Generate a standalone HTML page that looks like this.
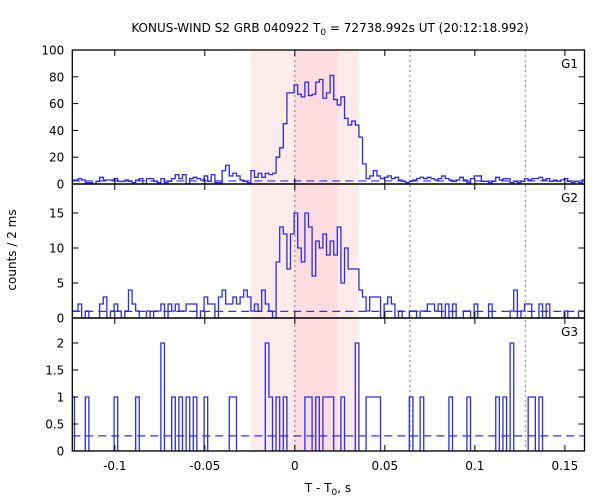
<!DOCTYPE html>
<html><head><meta charset="utf-8"><style>
body{margin:0;background:#fff}
svg{display:block;font-family:"DejaVu Sans","Liberation Sans",sans-serif;font-size:12px}
</style></head><body>
<svg id="c" width="600" height="500"></svg>
<script>
const binStart=-0.1244, binWidth=0.002;
const g1Counts=[3,3,4,3,1,1,0,2,5,3,3,3,4,2,2,3,2,1,3,4,0,4,4,2,1,4,1,2,4,7,4,7,0,4,5,4,3,6,2,7,1,1,10,14,6,8,6,3,2,1,
10,5,8,5,8,7,8,20,27,45,68,68,74,67,65,76,66,67,76,78,64,68,81,63,59,65,49,44,47,44,35,15,4,6,10,
6,4,5,6,4,5,3,2,1,2,3,4,5,4,5,4,3,4,6,4,3,2,3,5,3,1,4,6,6,2,2,1,2,5,3,4,4,1,2,1,2,4,3,4,4,5,3,4,2,3,2,3,4,2,1,2,1,3];
const g2Counts=[1,1,2,0,1,0,0,0,2,3,0,1,2,1,0,1,4,2,1,0,0,1,0,1,1,2,0,2,1,2,1,1,2,2,2,0,1,3,2,2,0,3,4,2,2,3,2,3,4,3,
1,2,1,4,2,1,0,8,13,12,7,12,15,10,8,15,13,6,11,10,12,9,11,9,13,5,10,7,7,7,4,3,1,3,3,
3,0,2,3,2,0,1,0,0,1,1,0,1,1,2,2,1,2,0,2,0,2,0,0,1,1,0,2,0,0,0,2,0,0,0,0,0,1,4,0,1,2,2,0,0,2,0,2,0,0,0,0,1,0,0,0,1,1];
const g3Ones=[0,4,12,18,28,30,32,34,37,44,45,55,57,59,65,66,68,70,71,72,75,82,83,84,85,94,97,105,110,118,120,127,128,130];
const g3Twos=[25,54,79,122];
const g3Counts=new Array(143).fill(0);
g3Ones.forEach(k=>g3Counts[k]=1); g3Twos.forEach(k=>g3Counts[k]=2);
const backgrounds=[2.3,0.95,0.28];
const xTicks=[-0.1,-0.05,0,0.05,0.1,0.15];
const xTickLabels=["-0.1","-0.05","0","0.05","0.1","0.15"];
const g1Ticks=[0,20,40,60,80,100], g2Ticks=[0,5,10,15], g3Ticks=[0,0.5,1,1.5,2];
const g3TickLabels=["0","0.5","1","1.5","2"];
const lightBand=[-0.0243,0.0357], darkBand=[0,0.0237];
const dottedLines=[0,0.064,0.128];

const NS="http://www.w3.org/2000/svg", svg=document.getElementById('c');
const L=72.3,R=584.5,T=50,B=451;
const xmin=-0.1236,xmax=0.1609;
const X=t=>L+(t-xmin)/(xmax-xmin)*(R-L);
function el(tag,a,p){const e=document.createElementNS(NS,tag);for(const k in a)e.setAttribute(k,a[k]);(p||svg).appendChild(e);return e;}
const panels=[
 {name:'g1',top:50,bot:184,max:100,data:g1Counts,ticks:g1Ticks,labels:g1Ticks.map(String)},
 {name:'g2',top:184,bot:318,max:19.14,data:g2Counts,ticks:g2Ticks,labels:g2Ticks.map(String)},
 {name:'g3',top:318,bot:451,max:2.463,data:g3Counts,ticks:g3Ticks,labels:g3TickLabels}];
let b=el('rect',{x:X(lightBand[0]),y:T,width:X(lightBand[1])-X(lightBand[0]),height:B-T,fill:'#fdeaea'});


b=el('rect',{x:X(darkBand[0]),y:T,width:X(darkBand[1])-X(darkBand[0]),height:B-T,fill:'#fcdcde'});


dottedLines.forEach(t=>{const l=el('line',{x1:X(t),x2:X(t),y1:T,y2:B,stroke:'#808080','stroke-dasharray':'2,3','stroke-width':1});

});
panels.forEach((p,i)=>{
 const Y=v=>p.bot-v/p.max*(p.bot-p.top);
 const cp=el('clipPath',{id:'cp'+i});el('rect',{x:L,y:p.top,width:R-L,height:p.bot-p.top},cp);
 const bl=el('line',{x1:L,x2:R,y1:Y(backgrounds[i]),y2:Y(backgrounds[i]),stroke:'#3333dd','stroke-dasharray':'8,5','stroke-width':1.2});
 
 
 let d='M'+X(binStart)+','+Y(p.data[0]);
 p.data.forEach((v,k)=>{const x1=X(binStart+(k+1)*binWidth);d+=' V'+Y(v)+' H'+x1;});
 const path=el('path',{d:d,fill:'none',stroke:'#2b2bee','stroke-width':1.3,'clip-path':'url(#cp'+i+')'});
 
 
 const fr=el('rect',{x:L,y:p.top,width:R-L,height:p.bot-p.top,fill:'none',stroke:'#000','stroke-width':1.3});
 
 
 p.ticks.forEach((v,j)=>{
  el('line',{x1:L,x2:L+6,y1:Y(v),y2:Y(v),stroke:'#000'});
  el('line',{x1:R,x2:R-6,y1:Y(v),y2:Y(v),stroke:'#000'});
  const tx=el('text',{x:L-8,y:Y(v)+4.5,'text-anchor':'end'});tx.textContent=p.labels[j];
  
  
 });
 xTicks.forEach(t=>{
  el('line',{x1:X(t),x2:X(t),y1:p.top,y2:p.top+6,stroke:'#000'});
  el('line',{x1:X(t),x2:X(t),y1:p.bot,y2:p.bot-6,stroke:'#000'});
 });
 const lab=el('text',{x:578,y:p.top+18,'text-anchor':'end'});lab.textContent='G'+(i+1);
 
 
});
xTicks.forEach((t,j)=>{const tx=el('text',{x:X(t),y:470,'text-anchor':'middle'});tx.textContent=xTickLabels[j];
 
 });
const title=el('text',{x:330,y:32,'text-anchor':'middle'});
title.innerHTML='KONUS-WIND S2 GRB 040922 T<tspan font-size="9" dy="3">0</tspan><tspan dy="-3"> = 72738.992s UT (20:12:18.992)</tspan>';


const xl=el('text',{x:328,y:492,'text-anchor':'middle'});
xl.innerHTML='T - T<tspan font-size="9" dy="3">0</tspan><tspan dy="-3">, s</tspan>';


const yl=el('text',{x:16,y:250,'text-anchor':'middle',transform:'rotate(-90 16 250)'});
yl.textContent='counts / 2 ms';


</script>
</body></html>
